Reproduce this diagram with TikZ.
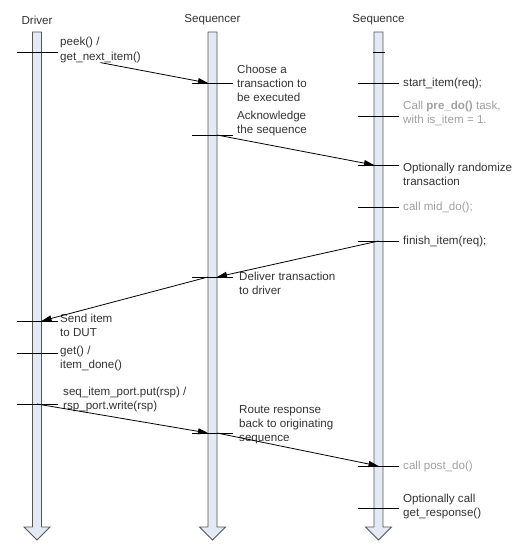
\documentclass[tikz,border=0pt]{standalone}
\usepackage{fontspec}
\setmainfont{Liberation Sans}
\usetikzlibrary{arrows.meta, positioning}
\definecolor{shaftfill}{RGB}{228,234,245}
\definecolor{shaftline}{RGB}{85,85,85}
\definecolor{txt}{RGB}{51,51,51}
\definecolor{faded}{RGB}{160,160,160}

\begin{document}
\begin{tikzpicture}[
  x=1pt, y=-1pt,
  every node/.style={font=\fontsize{11.6}{14}\selectfont, text=txt, inner sep=0pt},
  head/.style={anchor=center},
  note/.style={anchor=west, align=left},
  faint/.style={note, text=faded},
  shaft/.style={draw=shaftline, fill=shaftfill, line width=0.8pt, line join=miter},
  tick/.style={draw=black, line width=0.8pt},
  msg/.style={draw=black, line width=0.8pt, -{Triangle[length=10pt,width=6pt]}}
]
\useasboundingbox (0,0) rectangle (523,554);

% lifelines
\node[head] (driver) at (37,20) {Driver};
\node[head] (sqr) at (212.5,20) {Sequencer};
\node[head] (seq) at (378.5,20) {Sequence};

\foreach \x in {37,212.5,378.5}
  \draw[shaft] (\x-4.5,32) -- (\x+4.5,32) -- (\x+4.5,527) -- (\x+13,527)
    -- (\x,540) -- (\x-13,527) -- (\x-4.5,527) -- cycle;

% event points
\coordinate (d1) at (37,52);
\coordinate (d2) at (37,321);
\coordinate (d3) at (37,353);
\coordinate (d4) at (37,404);
\coordinate (q1) at (212.5,83);
\coordinate (q2) at (212.5,135);
\coordinate (q3) at (212.5,277);
\coordinate (q4) at (212.5,433);
\coordinate (s0) at (378.5,52);
\coordinate (s1) at (378.5,83);
\coordinate (s2) at (378.5,116);
\coordinate (s3) at (378.5,165);
\coordinate (s4) at (378.5,207);
\coordinate (s5) at (378.5,241);
\coordinate (s6) at (378.5,466);
\coordinate (s7) at (378.5,508);

\foreach \c in {d1,d2,d3,d4,q1,q2,q3,q4,s1,s2,s3,s4,s5,s6,s7}
  \draw[tick] ([xshift=-20.5pt]\c) -- ([xshift=20.5pt]\c);
\draw[tick] ([xshift=-6pt]s0) -- ([xshift=6pt]s0);

% labels
\node[note] (peek) at (60,50) {peek() /\\get\_next\_item()};
\node[note] (choose) at (237,83) {Choose a\\transaction to\\be executed};
\node[note] (ack) at (237,123.5) {Acknowledge\\the sequence};
\node[note] (start) at (403,83) {start\_item(req);};
\node[faint] (pre) at (403,113.5) {Call \textbf{pre\_do()} task,\\with is\_item = 1.};
\node[note] (rand) at (403,174) {Optionally randomize\\transaction};
\node[faint] (mid) at (403,207) {call mid\_do();};
\node[note] (finish) at (403,241) {finish\_item(req);};
\node[note] (deliver) at (239,283) {Deliver transaction\\to driver};
\node[note] (send) at (60,325) {Send item\\to DUT};
\node[note] (get) at (60,358.5) {get() /\\item\_done()};
\node[note] (put) at (63,399) {seq\_item\_port.put(rsp) /\\rsp\_port.write(rsp)};
\node[note] (route) at (239,425) {Route response\\back to originating\\sequence};
\node[faint] (post) at (403,466) {call post\_do()};
\node[note] (optcall) at (403,506) {Optionally call\\get\_response()};

% messages
\draw[msg] (peek.south) -- ([xshift=-4.5pt]q1);
\draw[msg] ([xshift=4.5pt]q2) -- ([xshift=-4.5pt]s3);
\draw[msg] (s5) -- ([xshift=4.5pt]q3);
\draw[msg] ([xshift=-4.5pt]q3) -- ([xshift=4.5pt]d2);
\draw[msg] (d4) -- ([xshift=-4.5pt]q4);
\draw[msg] ([xshift=4.5pt]q4) -- (s6);

\end{tikzpicture}
\end{document}
